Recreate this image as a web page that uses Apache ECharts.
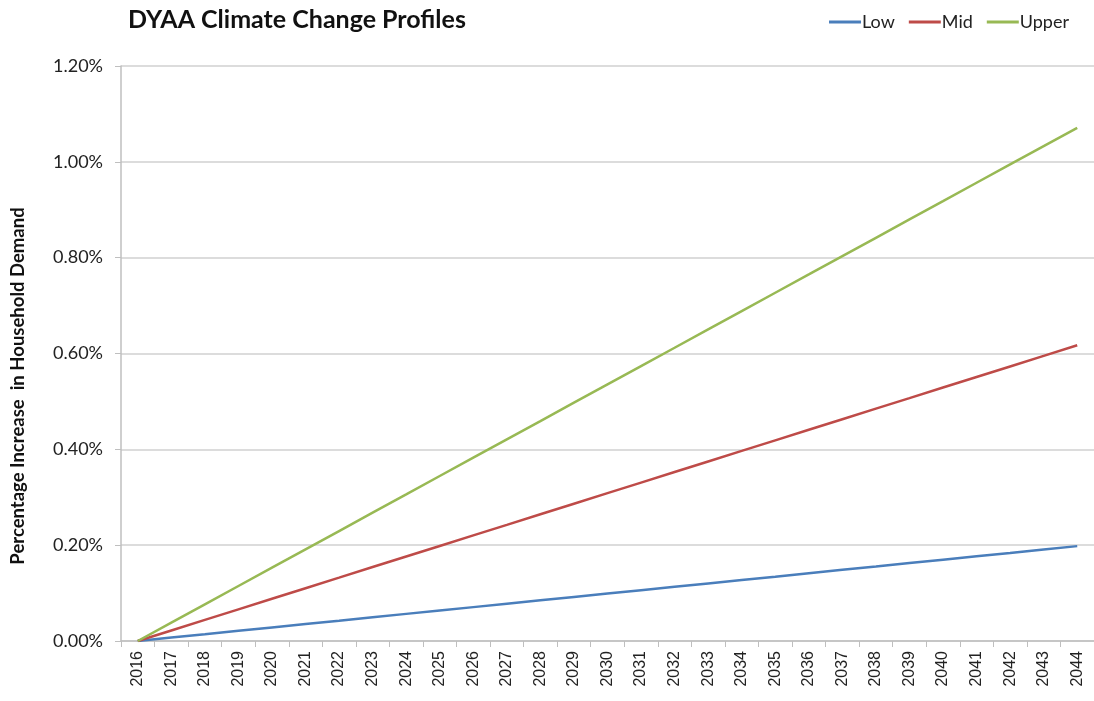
<!DOCTYPE html>
<html>
<head>
<meta charset="utf-8">
<script src="https://cdn.jsdelivr.net/npm/echarts@6/dist/echarts.min.js"></script>
<style>
html,body{margin:0;padding:0;background:#fff;}
#chart{width:1094px;height:701px;}
</style>
</head>
<body>
<div id="chart"></div>
<script>
var years = ['2016','2017','2018','2019','2020','2021','2022','2023','2024','2025','2026','2027','2028','2029','2030','2031','2032','2033','2034','2035','2036','2037','2038','2039','2040','2041','2042','2043','2044'];
var low = [0, 0.0071, 0.0141, 0.0212, 0.0283, 0.0354, 0.0424, 0.0495, 0.0566, 0.0636, 0.0707, 0.0778, 0.0848, 0.0919, 0.0990, 0.1061, 0.1131, 0.1202, 0.1273, 0.1343, 0.1414, 0.1485, 0.1555, 0.1626, 0.1697, 0.1768, 0.1838, 0.1909, 0.1980];
var mid = [0, 0.0220, 0.0441, 0.0661, 0.0882, 0.1102, 0.1322, 0.1543, 0.1763, 0.1984, 0.2204, 0.2424, 0.2645, 0.2865, 0.3086, 0.3306, 0.3526, 0.3747, 0.3967, 0.4188, 0.4408, 0.4628, 0.4849, 0.5069, 0.5290, 0.5510, 0.5730, 0.5951, 0.6171];
var upper = [0, 0.0383, 0.0765, 0.1148, 0.1530, 0.1913, 0.2295, 0.2678, 0.3060, 0.3443, 0.3825, 0.4208, 0.4590, 0.4973, 0.5355, 0.5738, 0.6120, 0.6503, 0.6885, 0.7268, 0.7650, 0.8033, 0.8415, 0.8798, 0.9180, 0.9563, 0.9945, 1.0328, 1.0710];

var font = 'Lato, "Open Sans", sans-serif';
var chart = echarts.init(document.getElementById('chart'));
chart.setOption({
  animation: false,
  backgroundColor: '#ffffff',
  title: {
    text: 'DYAA Climate Change Profiles',
    left: 123, top: 2,
    textStyle: {fontFamily: font, fontWeight: 'bold', fontSize: 25, color: '#111'}
  },
  legend: {
    right: 20, top: 8,
    itemWidth: 32, itemHeight: 3, itemGap: 14,
    icon: 'rect',
    textStyle: {fontFamily: font, fontSize: 18, color: '#222', padding: [0,0,0,-4]},
    data: ['Low','Mid','Upper']
  },
  graphic: [{
    type: 'text',
    x: 18, y: 386,
    rotation: Math.PI / 2,
    style: {
      text: 'Percentage Increase  in Household Demand',
      fontFamily: font, fontWeight: 'bold', fontSize: 18.5, fill: '#111',
      textAlign: 'center', textVerticalAlign: 'middle'
    }
  }],
  grid: {left: 121, right: 0, top: 66, bottom: 60, containLabel: false},
  xAxis: {
    type: 'category',
    data: years,
    boundaryGap: true,
    axisLine: {lineStyle: {color: '#bfbfbf', width: 1.5}},
    axisTick: {show: true, length: 6, lineStyle: {color: '#bfbfbf'}},
    axisLabel: {rotate: 90, interval: 0, fontFamily: '"Liberation Sans", Arial, sans-serif', fontSize: 16, color: '#222', margin: 10}
  },
  yAxis: {
    type: 'value',
    min: 0, max: 1.2, interval: 0.2,
    axisLine: {show: true, lineStyle: {color: '#bfbfbf', width: 1.5}},
    axisTick: {show: true, length: 6, lineStyle: {color: '#bfbfbf'}},
    splitLine: {lineStyle: {color: '#d0d0d0', width: 1.5}},
    axisLabel: {
      fontFamily: font, fontSize: 18, color: '#222', margin: 18,
      formatter: function (v) { return v.toFixed(2) + '%'; }
    }
  },
  series: [
    {name: 'Low', type: 'line', data: low, showSymbol: false, symbol: 'none', lineStyle: {color: '#4a7ebb', width: 2.5}, itemStyle: {color: '#4a7ebb'}},
    {name: 'Mid', type: 'line', data: mid, showSymbol: false, symbol: 'none', lineStyle: {color: '#be4b48', width: 2.5}, itemStyle: {color: '#be4b48'}},
    {name: 'Upper', type: 'line', data: upper, showSymbol: false, symbol: 'none', lineStyle: {color: '#98b954', width: 2.5}, itemStyle: {color: '#98b954'}}
  ]
});
</script>
</body>
</html>
